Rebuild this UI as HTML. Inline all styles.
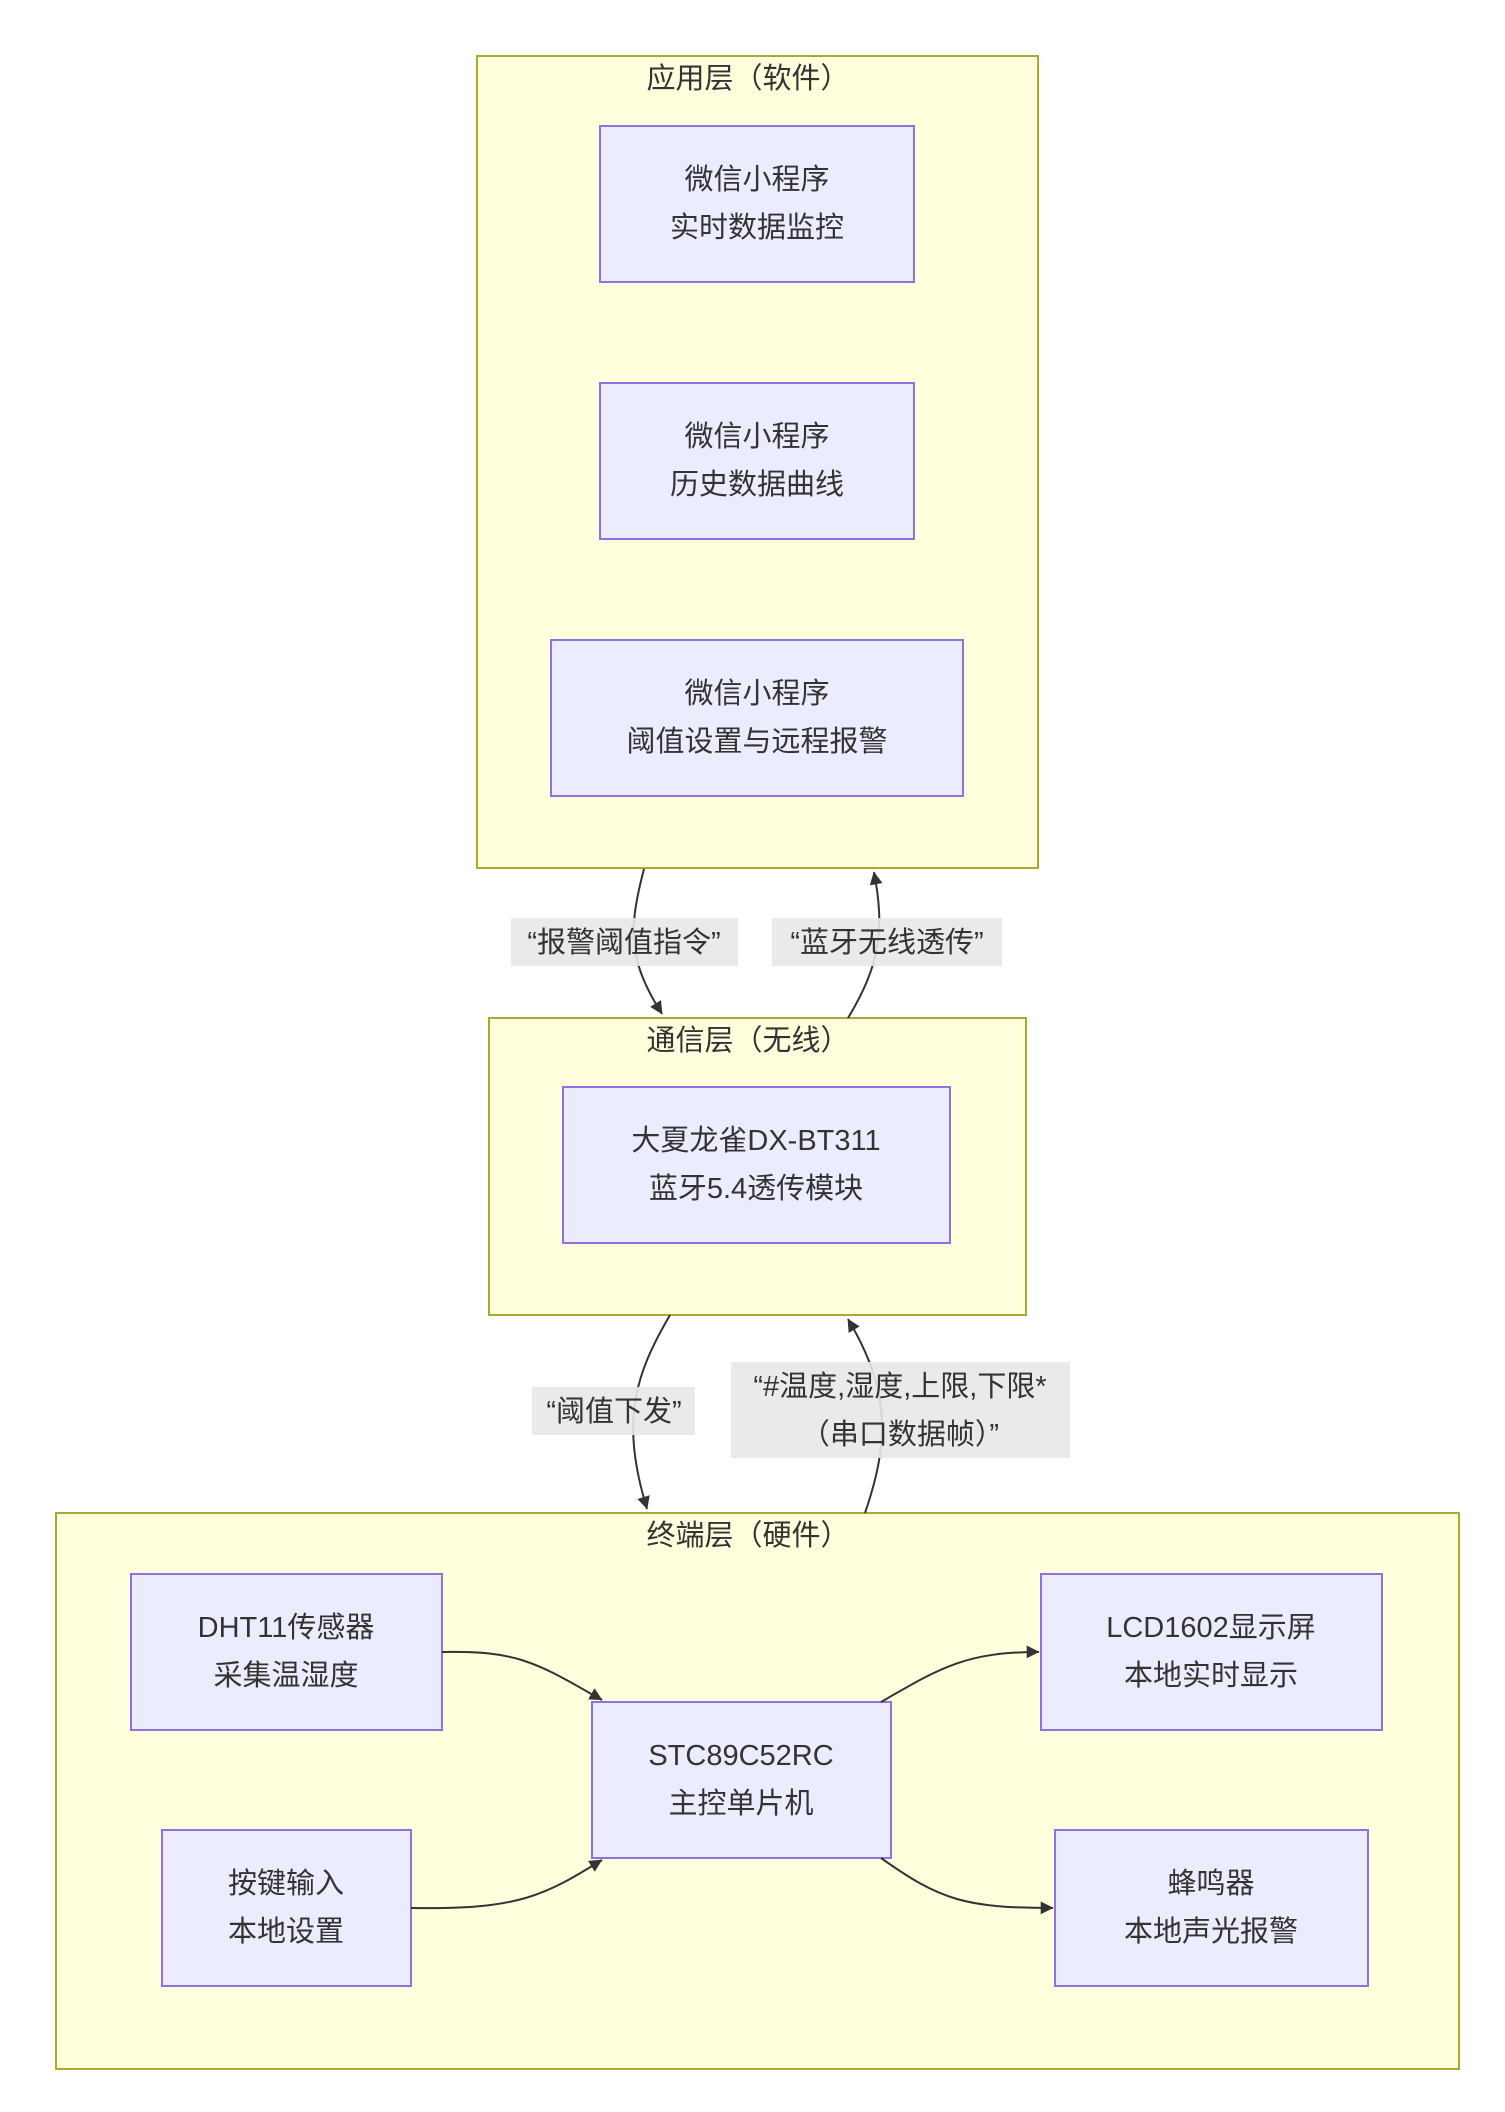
<!DOCTYPE html>
<html><head><meta charset="utf-8"><style>
html,body{margin:0;padding:0;background:#fff;}
svg{display:block;}
text{font-family:"Liberation Sans","Noto Sans CJK SC",sans-serif;fill:#333;}
.c{fill:#ffffde;stroke:#aaaa33;stroke-width:2;}
.n{fill:#ececff;stroke:#9370db;stroke-width:2;}
.e{fill:none;stroke:#333;stroke-width:2;}
.lb{fill:#e8e8e8;opacity:0.9;}
.t{font-size:29px;text-anchor:middle;}
</style></head><body>
<svg width="1505" height="2112" viewBox="0 0 1505 2112" xmlns="http://www.w3.org/2000/svg">
<defs>
<marker id="a" viewBox="0 0 10 10" refX="9" refY="5" markerWidth="8" markerHeight="8" markerUnits="userSpaceOnUse" orient="auto" style="overflow:visible">
<path d="M0,0 L10,5 L0,10 z" fill="#333" transform="scale(1.6) translate(-4,-2)"/>
</marker>
</defs>
<!-- clusters -->
<rect class="c" x="477" y="56" width="561" height="812"/>
<text class="t" x="748" y="88">应用层（软件）</text>
<rect class="c" x="489" y="1018" width="537" height="297"/>
<text class="t" x="748" y="1050">通信层（无线）</text>
<rect class="c" x="56" y="1513" width="1403" height="556"/>
<text class="t" x="748" y="1545">终端层（硬件）</text>

<!-- edges between layers -->
<path class="e" d="M644,869 C628,930 628,960 662,1014" marker-end="url(#a)"/>
<path class="e" d="M848,1018 C880,965 885,930 874,872" marker-end="url(#a)"/>
<path class="e" d="M670,1315 C635,1375 620,1420 647,1509" marker-end="url(#a)"/>
<path class="e" d="M865,1513 C890,1440 890,1390 848,1319" marker-end="url(#a)"/>

<!-- edge labels -->
<rect class="lb" x="511" y="918" width="227" height="48"/>
<text class="t" x="624" y="952">“报警阈值指令”</text>
<rect class="lb" x="772" y="918" width="230" height="48"/>
<text class="t" x="887" y="952">“蓝牙无线透传”</text>
<rect class="lb" x="532" y="1387" width="163" height="48"/>
<text class="t" x="614" y="1421">“阈值下发”</text>
<rect class="lb" x="731" y="1362" width="339" height="96"/>
<text class="t" x="900" y="1396">“#温度,湿度,上限,下限*</text>
<text class="t" x="900" y="1444">（串口数据帧）”</text>

<!-- app nodes -->
<rect class="n" x="600" y="126" width="314" height="156"/>
<text class="t" x="757" y="189">微信小程序</text>
<text class="t" x="757" y="237">实时数据监控</text>
<rect class="n" x="600" y="383" width="314" height="156"/>
<text class="t" x="757" y="446">微信小程序</text>
<text class="t" x="757" y="494">历史数据曲线</text>
<rect class="n" x="551" y="640" width="412" height="156"/>
<text class="t" x="757" y="703">微信小程序</text>
<text class="t" x="757" y="751">阈值设置与远程报警</text>

<!-- bt node -->
<rect class="n" x="563" y="1087" width="387" height="156"/>
<text class="t" x="756" y="1150">大夏龙雀DX-BT311</text>
<text class="t" x="756" y="1198">蓝牙5.4透传模块</text>

<!-- terminal nodes -->
<rect class="n" x="131" y="1574" width="311" height="156"/>
<text class="t" x="286" y="1637">DHT11传感器</text>
<text class="t" x="286" y="1685">采集温湿度</text>
<rect class="n" x="162" y="1830" width="249" height="156"/>
<text class="t" x="286" y="1893">按键输入</text>
<text class="t" x="286" y="1941">本地设置</text>
<rect class="n" x="592" y="1702" width="299" height="156"/>
<text class="t" x="741" y="1765">STC89C52RC</text>
<text class="t" x="741" y="1813">主控单片机</text>
<rect class="n" x="1041" y="1574" width="341" height="156"/>
<text class="t" x="1211" y="1637">LCD1602显示屏</text>
<text class="t" x="1211" y="1685">本地实时显示</text>
<rect class="n" x="1055" y="1830" width="313" height="156"/>
<text class="t" x="1211" y="1893">蜂鸣器</text>
<text class="t" x="1211" y="1941">本地声光报警</text>

<!-- inner edges -->
<path class="e" d="M442,1652 C520,1650 540,1665 602,1700" marker-end="url(#a)"/>
<path class="e" d="M411,1908 C520,1910 545,1895 602,1860" marker-end="url(#a)"/>
<path class="e" d="M881,1702 C940,1668 965,1652 1039,1652" marker-end="url(#a)"/>
<path class="e" d="M881,1858 C940,1900 965,1908 1053,1908" marker-end="url(#a)"/>
</svg>
</body></html>
